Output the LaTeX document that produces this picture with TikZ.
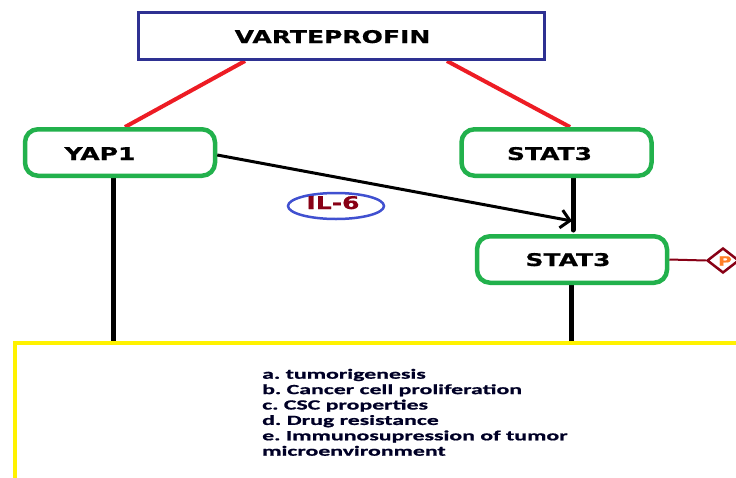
\documentclass[tikz,border=0pt]{standalone}
\usepackage{fontspec}
\setmainfont{DejaVu Sans}
\newfontfamily\labf[FakeStretch=1.43,FakeBold=0.6]{DejaVu Sans}
\newfontfamily\listf[FakeStretch=1.7,FakeBold=1.0]{Carlito}
\usetikzlibrary{arrows.meta,shapes.geometric}
\definecolor{vblue}{HTML}{2E3192}
\definecolor{vred}{HTML}{ED1C24}
\definecolor{vgreen}{HTML}{22B14C}
\definecolor{vyellow}{HTML}{FFF200}
\definecolor{ilblue}{HTML}{4050D0}
\definecolor{vmaroon}{HTML}{880015}
\definecolor{porange}{HTML}{FF7F27}
\pgfdeclarelayer{bg}
\pgfsetlayers{bg,main}
\begin{document}
\frenchspacing
\begin{tikzpicture}[x=1pt,y=-1pt,
  vbox/.style={draw=vblue,line width=3pt,minimum width=406pt,minimum height=47pt,inner sep=0pt,fill=white},
  gbox/.style={draw=vgreen,line width=4.5pt,rounded corners=13pt,minimum width=190pt,minimum height=46.5pt,inner sep=0pt,fill=white},
  lbl/.style={font=\labf\bfseries\fontsize{17.5}{20}\selectfont\frenchspacing,text=black,anchor=base,inner sep=0pt},
  listl/.style={font=\listf\bfseries\fontsize{14}{16}\selectfont\frenchspacing,text=black!85!blue,anchor=base west,inner sep=0pt},
  redl/.style={draw=vred,line width=4pt},
  bline/.style={draw=black,line width=5pt,line cap=round},
  arrl/.style={draw=black,line width=3pt,-{Straight Barb[length=9pt,width=18pt,line width=3pt]}}
]
\useasboundingbox (0,0) rectangle (736,477);
\clip (0,0) rectangle (736,477);

% boxes
\node[vbox] (var) at (341.5,36) {};
\node[gbox] (yap) at (120,152.5) {};
\node[gbox] (s1) at (556.5,152.5) {};
\node[gbox] (s2) at (572,259.5) {};
\node[draw=vyellow,line width=4pt,minimum width=800pt,minimum height=300pt,anchor=north west,inner sep=0pt] (out) at (12.7,341) {};
\node[ellipse,draw=ilblue,line width=2.5pt,minimum width=96pt,minimum height=26pt,inner sep=0pt] (il) at (336,206) {};
\node[diamond,draw=vmaroon,line width=2.5pt,minimum width=32pt,minimum height=25pt,inner sep=0pt,fill=white] (pd) at (723,260.5) {};

% labels
\node[lbl] (vt) at (332.5,43) {VARTEPROFIN};
\node[lbl] (yt) at (100,160) {YAP1};
\node[lbl] (s1t) at (549.5,160) {STAT3};
\node[lbl] (s2t) at (568,266) {STAT3};
\node[lbl,text=vmaroon] (ilt) at (333,209) {IL-6};
\node[font=\labf\bfseries\fontsize{13}{15}\selectfont,text=porange,inner sep=0pt] (pt) at (725,261) {P};

\node[listl] (l1) at (262,378.7) {a. tumorigenesis};
\node[listl] (l2) at (262,394.1) {b. Cancer cell proliferation};
\node[listl] (l3) at (262,409.5) {c. CSC properties};
\node[listl] (l4) at (262,424.9) {d. Drug resistance};
\node[listl] (l5) at (262,440.3) {e. Immunosupression of tumor};
\node[listl] (l6) at (262,455.7) {microenvironment};

% connectors
\begin{pgfonlayer}{bg}
\fill[white] (0,0) rectangle (736,477);
\draw[redl] ([xshift=-96.5pt]var.south) -- ([xshift=5pt]yap.north);
\draw[redl] ([xshift=105.5pt]var.south) -- ([xshift=13.5pt]s1.north);
\draw[bline] ([xshift=-7pt]yap.south) -- ([xshift=-7pt]yap.south |- out.north);
\draw[bline] ([xshift=16.5pt]s1.south) -- ([xshift=1pt,yshift=4pt]s2.north);
\draw[bline] ([xshift=-1pt]s2.south) -- ([xshift=-1pt]s2.south |- out.north);
\draw[draw=vmaroon,line width=2pt] (s2.east) -- (pd.west);
\end{pgfonlayer}
\draw[arrl] ([yshift=-2.5pt]yap.east) -- ([yshift=13pt]s2.north);
\end{tikzpicture}
\end{document}
